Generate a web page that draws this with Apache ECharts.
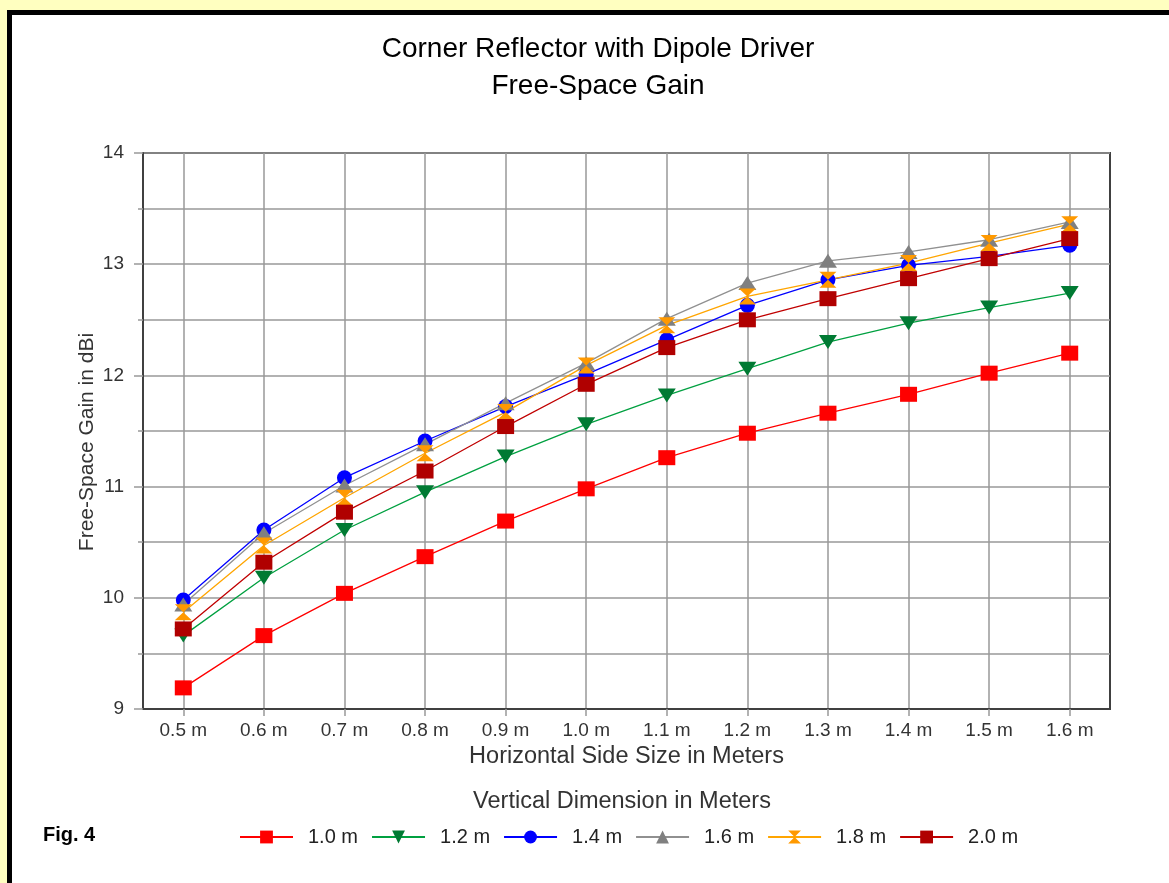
<!DOCTYPE html>
<html>
<head>
<meta charset="utf-8">
<script src="https://cdn.jsdelivr.net/npm/echarts@6/dist/echarts.min.js"></script>
<style>
html,body{margin:0;padding:0;background:#FFFFC0;width:1169px;height:883px;overflow:hidden;}
#frame{position:absolute;left:7px;top:10px;width:1170px;height:890px;border:5px solid #000;background:#fff;}
#chart{position:absolute;left:0;top:0;width:1169px;height:883px;}
</style>
</head>
<body>
<div id="frame"></div>
<div id="chart"></div>
<script>
const categories = ['0.5 m','0.6 m','0.7 m','0.8 m','0.9 m','1.0 m','1.1 m','1.2 m','1.3 m','1.4 m','1.5 m','1.6 m'];
const seriesNames = ['1.0 m','1.2 m','1.4 m','1.6 m','1.8 m','2.0 m'];
const v10 = [9.19, 9.66, 10.04, 10.37, 10.69, 10.98, 11.26, 11.48, 11.66, 11.83, 12.02, 12.20];
const v12 = [9.66, 10.18, 10.61, 10.95, 11.27, 11.56, 11.82, 12.06, 12.30, 12.47, 12.61, 12.74];
const v14 = [9.98, 10.61, 11.08, 11.41, 11.72, 12.01, 12.32, 12.63, 12.86, 12.99, 13.07, 13.17];
const v16 = [9.94, 10.58, 11.01, 11.38, 11.75, 12.11, 12.51, 12.83, 13.03, 13.11, 13.22, 13.38];
const v18 = [9.87, 10.47, 10.90, 11.30, 11.67, 12.09, 12.45, 12.71, 12.86, 13.01, 13.19, 13.36];
const v20 = [9.72, 10.32, 10.77, 11.14, 11.54, 11.92, 12.25, 12.50, 12.69, 12.87, 13.05, 13.23];
const yTicks = [9, 10, 11, 12, 13, 14];

const chart = echarts.init(document.getElementById('chart'), null, {renderer:'canvas'});
const FONT = '"Liberation Sans", Arial, sans-serif';
const hourglass = 'path://M0,0L10,0L5,5L10,10L0,10L5,5Z';
const tri = 'path://M5,0L10,10L0,10Z';
const triDown = 'path://M0,0L10,0L5,10Z';

function mk(name, data, color, lineColor, symbol, size){
  return {
    name: name, type:'line', data: data, symbol: symbol, symbolSize: size,
    showAllSymbol: true,
    lineStyle:{color: lineColor, width:1.3},
    itemStyle:{color: color, borderWidth:0},
    emphasis:{disabled:true},
    animation:false
  };
}

chart.setOption({
  backgroundColor:'transparent',
  animation:false,
  textStyle:{fontFamily:FONT},
  title:[{
    text:'Corner Reflector with Dipole Driver\nFree-Space Gain',
    left:593, top:26,
    textAlign:'center',
    textStyle:{fontFamily:FONT, fontSize:28, fontWeight:'normal', color:'#000', lineHeight:37}
  }],
  graphic:[{
    type:'text', x:43, y:835,
    style:{text:'Fig. 4', font:'bold 20px "Liberation Sans", Arial, sans-serif', fill:'#000', verticalAlign:'middle'}
  },{
    type:'text', x:622, y:802,
    style:{text:'Vertical Dimension in Meters', font:'23.5px "Liberation Sans", Arial, sans-serif', fill:'#333', align:'center', verticalAlign:'middle'}
  },{
    type:'text', x:87, y:442, rotation:Math.PI/2,
    style:{text:'Free-Space Gain in dBi', font:'21px "Liberation Sans", Arial, sans-serif', fill:'#333', align:'center', verticalAlign:'middle'}
  }],
  legend:{
    data: seriesNames,
    left:234, top:822,
    itemWidth:53, itemHeight:16, itemGap:13,
    textStyle:{fontFamily:FONT, fontSize:20, color:'#222', padding:[0,0,0,10]},
    selectedMode:false
  },
  grid:{left:143, right:59, top:153, bottom:174, show:true, borderColor:'#404040', borderWidth:2, containLabel:false},
  xAxis:{
    type:'category', data: categories, boundaryGap:true,
    name:'Horizontal Side Size in Meters', nameLocation:'middle', nameGap:36,
    nameTextStyle:{fontFamily:FONT, fontSize:23.5, color:'#333'},
    axisLine:{lineStyle:{color:'#404040', width:2}},
    axisTick:{show:true, alignWithLabel:true, length:7, lineStyle:{color:'#999', width:1.5}},
    axisLabel:{fontFamily:FONT, fontSize:19, color:'#333', margin:12, interval:0},
    splitLine:{show:true, alignWithLabel:true, lineStyle:{color:'#999', width:1.5}}
  },
  yAxis:{
    type:'value', min: yTicks[0], max: yTicks[yTicks.length-1], interval:1,
    axisLine:{show:true, lineStyle:{color:'#404040', width:2}},
    axisTick:{show:true, length:9, lineStyle:{color:'#999', width:1.5}},
    minorTick:{show:true, splitNumber:2, length:5, lineStyle:{color:'#999', width:1.5}},
    axisLabel:{fontFamily:FONT, fontSize:19, color:'#333', margin:19},
    splitLine:{show:true, lineStyle:{color:'#999', width:1.5}},
    minorSplitLine:{show:true, lineStyle:{color:'#999', width:1.5}}
  },
  series:[
    mk(seriesNames[0], v10, '#FF0000', '#FF0000', 'rect', [17,15]),
    mk(seriesNames[1], v12, '#007A33', '#00A040', triDown, [18,14]),
    mk(seriesNames[2], v14, '#0000FF', '#0000FF', 'circle', 15),
    mk(seriesNames[3], v16, '#808080', '#909090', tri, [18,14]),
    mk(seriesNames[4], v18, '#FF9900', '#FFA500', hourglass, [17,16]),
    mk(seriesNames[5], v20, '#B00000', '#C00000', 'rect', [17,15])
  ]
});
</script>
</body>
</html>
